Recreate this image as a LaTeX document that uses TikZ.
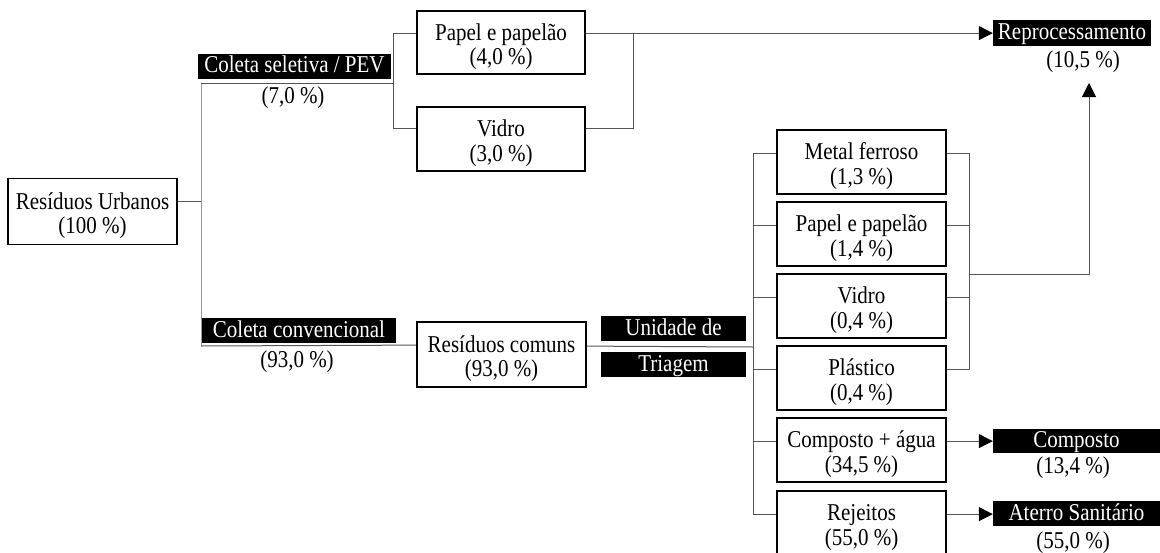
\documentclass[tikz,border=0pt]{standalone}
\usepackage{fontspec}
\usepackage{graphicx}
\setmainfont{Liberation Serif}
\usetikzlibrary{arrows.meta,calc}
\definecolor{linegray}{HTML}{555555}
\definecolor{lightline}{HTML}{9A9A9A}
% text set slightly taller than wide, lowered by #1 without changing its box
\newcommand\boxtext[2][0pt]{\raisebox{-#1}[\height][\depth]{\scalebox{1}[1.15]{\begin{tabular}{@{}c@{}}#2\end{tabular}}}}
\tikzset{
  base/.style={font=\fontsize{21}{21.7}\selectfont, align=center, inner sep=0pt},
  box/.style={base, draw=black, line width=1.8pt, minimum width=169pt, minimum height=64pt},
  tag/.style={base, fill=black, text=white, minimum height=25pt},
  pct/.style={base},
  conn/.style={draw=linegray, line width=1pt},
  arr/.style={conn, -{Triangle[length=14pt,width=14pt,color=black]}},
}
\begin{document}
\begin{tikzpicture}[x=1pt,y=-1pt]
\useasboundingbox (0,0) rectangle (1160,552);

% boxes
\node[box, minimum height=66pt] (ru) at (92.5,211.5) {\boxtext[5pt]{Resíduos Urbanos\\(100 \%)}};
\node[box, minimum width=168pt, minimum height=63pt] (pp1) at (501,42.5) {\boxtext[5pt]{Papel e papelão\\(4,0 \%)}};
\node[box, minimum width=168pt] (vd1) at (501,139) {\boxtext[5pt]{Vidro\\(3,0 \%)}};
\node[box, minimum height=65pt] (rc) at (501.5,354.5) {\boxtext[5pt]{Resíduos comuns\\(93,0 \%)}};
\node[box] (mf)  at (861.5,162) {\boxtext[5pt]{Metal ferroso\\(1,3 \%)}};
\node[box] (pp2) at (861.5,234) {\boxtext[5pt]{Papel e papelão\\(1,4 \%)}};
\node[box] (vd2) at (861.5,306) {\boxtext[5pt]{Vidro\\(0,4 \%)}};
\node[box] (pl)  at (861.5,378) {\boxtext[5pt]{Plástico\\(0,4 \%)}};
\node[box] (ca)  at (861.5,450) {\boxtext[5pt]{Composto + água\\(34,5 \%)}};
\node[box] (rj)  at (861.5,523) {\boxtext[5pt]{Rejeitos\\(55,0 \%)}};

% black labels and shares
\node[tag, minimum width=193pt] (cs) at (294.5,66) {\boxtext[2pt]{Coleta seletiva / PEV}};
\node[pct] (cspct) at (293,99) {\boxtext{(7,0 \%)}};
\node[tag, minimum width=194pt] (cc) at (299,330.5) {\boxtext[2pt]{Coleta convencional}};
\node[pct] (ccpct) at (297,363) {\boxtext{(93,0 \%)}};
\node[tag, minimum width=145pt] (ut1) at (673.5,328.5) {\boxtext[2pt]{Unidade de}};
\node[tag, minimum width=145pt] (ut2) at (673.5,364.5) {\boxtext[2pt]{Triagem}};
\node[tag, minimum width=158pt, minimum height=26pt] (rep) at (1072,33) {\boxtext[2pt]{Reprocessamento}};
\node[pct] (reppct) at (1083,63) {\boxtext{(10,5 \%)}};
\node[tag, minimum width=167pt, minimum height=24pt] (comp) at (1076.5,441) {\boxtext[2pt]{Composto}};
\node[pct] (comppct) at (1073,469) {\boxtext{(13,4 \%)}};
\node[tag, minimum width=167pt] (at) at (1076.5,513.5) {\boxtext[2pt]{Aterro Sanitário}};
\node[pct] (atpct) at (1073,544) {\boxtext{(55,0 \%)}};

% junction points
\coordinate (top) at (201,83);
\coordinate (bot) at (201,346);
\coordinate (sj) at (393,83);
\coordinate (pj) at (633,34);
\coordinate (tj) at (753,347);
\coordinate (rj2) at (969,274);
\coordinate (repin) at (1089,83);

% urban waste split
\draw[conn] ([yshift=-24pt]ru.north east) -- ([yshift=-24pt]ru.north east -| top);
\draw[conn, draw=lightline] (top) -- (bot);

% selective collection
\draw[conn] (top) -- (sj);
\draw[conn] ([yshift=-23pt]pp1.north west) -| (sj);
\draw[conn] ([yshift=-22pt]vd1.north west) -| (sj);
\draw[arr] ([yshift=-23pt]pp1.north east) -- ([yshift=-23pt]pp1.north east -| rep.west);
\draw[conn] ([yshift=-22pt]vd1.north east) -| (pj);

% conventional collection
\draw[conn] (bot) -- ([yshift=-24pt]rc.north west);
\draw[conn] ([yshift=-25pt]rc.north east) -- (tj);
\foreach \n in {mf,pp2,vd2,pl,ca,rj}
  \draw[conn] ([yshift=-24pt]\n.north west) -| (tj);
\foreach \n in {mf,pp2,vd2,pl}
  \draw[conn] ([yshift=-24pt]\n.north east) -| (rj2);
\draw[arr] (rj2) -| (repin);

% outputs
\draw[arr] ([yshift=-24pt]ca.north east) -- ([yshift=-24pt]ca.north east -| comp.west);
\draw[arr] ([yshift=-24pt]rj.north east) -- ([yshift=-24pt]rj.north east -| at.west);
\end{tikzpicture}
\end{document}
